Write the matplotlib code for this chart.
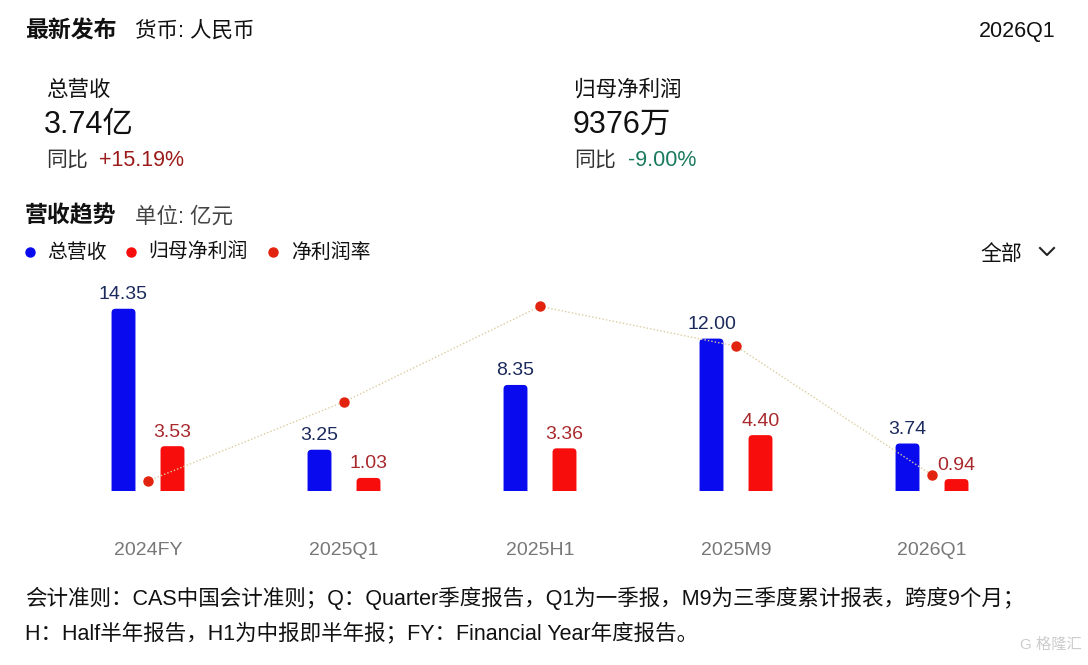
import matplotlib
matplotlib.use('Agg')
import matplotlib.pyplot as plt
from matplotlib.lines import Line2D
from matplotlib.patches import FancyBboxPatch

plt.rcParams['font.family'] = ['Liberation Sans', 'Noto Sans CJK SC', 'DejaVu Sans']

# data
periods = ['2024FY', '2025Q1', '2025H1', '2025M9', '2026Q1']
revenue = [14.35, 3.25, 8.35, 12.00, 3.74]       # 总营收, 亿元
net_profit = [3.53, 1.03, 3.36, 4.40, 0.94]      # 归母净利润, 亿元
margin = [24.60, 31.69, 40.24, 36.67, 25.13]     # 净利润率, %

W, H = 1088, 665
fig = plt.figure(figsize=(W/100, H/100), dpi=100)
fig.patch.set_facecolor('white')

def px(x, y):
    return x/W, 1 - y/H

def txt(x, y, s, **kw):
    kw.setdefault('va', 'center')
    fig.text(*px(x, y), s, **kw)

blue = '#0a0aee'
red = '#f80d0d'
dot_red = '#e2230f'

# header
txt(25, 31, '最新发布', fontsize=16.5, fontweight='bold', color='#111111')
txt(135, 31, '货币: 人民币', fontsize=15.5, color='#111111')
txt(1056, 31, '2026Q1', fontsize=15.5, color='#111111', ha='right')

txt(46, 90, '总营收', fontsize=15.5, color='#111111')
txt(44, 125, '3.74亿', fontsize=22, color='#111111')
txt(46, 160, '同比', fontsize=15, color='#333333')
txt(99, 160, '+15.19%', fontsize=15.5, color='#9b1a1a')

txt(574, 90, '归母净利润', fontsize=15.5, color='#111111')
txt(573, 125, '9376万', fontsize=22, color='#111111')
txt(574, 160, '同比', fontsize=15, color='#333333')
txt(628, 160, '-9.00%', fontsize=15.5, color='#1a7a5e')

txt(25, 216, '营收趋势', fontsize=16.5, fontweight='bold', color='#111111')
txt(135, 217, '单位: 亿元', fontsize=15.5, color='#444444')

# legend
for xd, col, xt, lab in [(30, blue, 47, '总营收'), (131, red, 148, '归母净利润'),
                         (273, dot_red, 291, '净利润率')]:
    fig.add_artist(Line2D([xd/W], [1 - 252/H], marker='o', markersize=6.5,
                          color=col, transform=fig.transFigure))
    txt(xt, 252, lab, fontsize=14.3, color='#111111')

txt(980, 254, '全部', fontsize=15, color='#111111')
fig.add_artist(Line2D([1040/W, 1047/W, 1054/W], [1 - 248/H, 1 - 255/H, 1 - 248/H],
                      color='#222222', lw=1.5, transform=fig.transFigure))

# chart area: category spacing 196 px, baseline at y=491
ax = fig.add_axes([50/W, 1 - 491/H, 980/W, 211/H])
x = list(range(len(periods)))
bw = 0.122
off = 0.125
ypx = 12.7                       # pixels per 亿元
ax.set_xlim(-0.5, 4.5)
ax.set_ylim(0, 211/ypx)

# bars with rounded top corners (bottom pushed below axis and clipped)
r = 4/196
aspect = 196/ypx
for vals, dx, col in [(revenue, -off, blue), (net_profit, off, red)]:
    for i, v in zip(x, vals):
        ax.add_patch(FancyBboxPatch((i + dx - bw/2, -1), bw, v + 1,
                                    boxstyle=f'round,pad=0,rounding_size={r}',
                                    mutation_aspect=aspect, fc=col, ec='none',
                                    zorder=2))

for i in x:
    ax.annotate(f'{revenue[i]:.2f}', (i - off, revenue[i]), xytext=(0, 4),
                textcoords='offset points', ha='center', va='bottom',
                fontsize=14, color='#1b2a5c')
    ax.annotate(f'{net_profit[i]:.2f}', (i + off, net_profit[i]), xytext=(0, 4),
                textcoords='offset points', ha='center', va='bottom',
                fontsize=14, color='#a8282c')

ax.set_xticks(x)
ax.set_xticklabels(periods, fontsize=14, color='#777777')
ax.tick_params(axis='x', length=0, pad=37)
ax.set_yticks([])
for s in ax.spines.values():
    s.set_visible(False)

# net margin on a second axis
ax2 = ax.twinx()
ax2.plot(x, margin, ls=(0, (1, 1.5)), lw=1, color='#dccca0', zorder=1)
ax2.plot(x, margin, ls='none', marker='o', markersize=6.5, color=dot_red, zorder=3)
ax2.set_ylim(23.7, 42.6)
ax2.set_yticks([])
for s in ax2.spines.values():
    s.set_visible(False)

# footer
txt(25, 598, '会计准则：CAS中国会计准则；Q：Quarter季度报告，Q1为一季报，M9为三季度累计报表，跨度9个月；',
    fontsize=15.5, color='#111111')
txt(25, 633, 'H：Half半年报告，H1为中报即半年报；FY：Financial Year年度报告。',
    fontsize=15.5, color='#111111')
txt(1082, 645, 'G 格隆汇', fontsize=11, color='#cccccc', ha='right')

fig.savefig('out.png', dpi=100, facecolor='white')
